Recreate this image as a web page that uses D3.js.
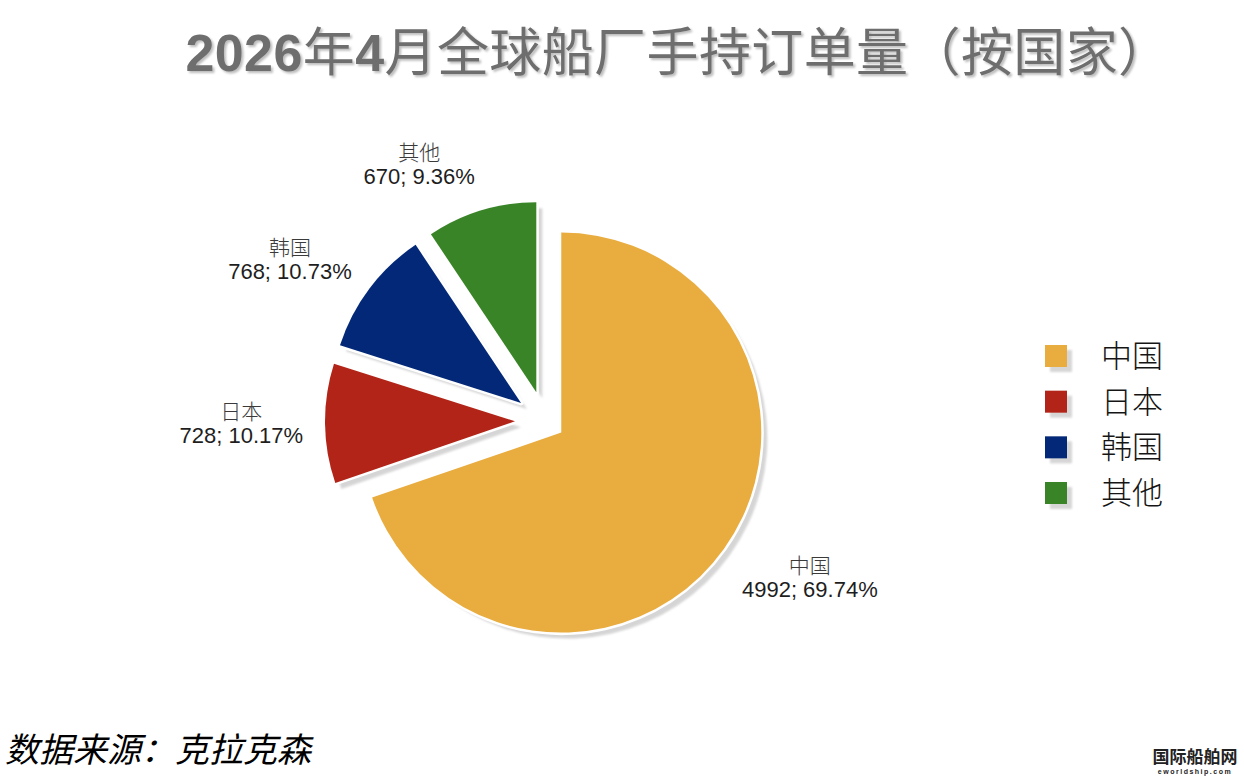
<!DOCTYPE html>
<html>
<head>
<meta charset="utf-8">
<script src="https://cdn.jsdelivr.net/npm/d3@7"></script>
<style>
  body { margin: 0; background: #fff; }
</style>
</head>
<body>
<div id="chart"></div>
<script>
// data
const title = "2026年4月全球船厂手持订单量（按国家）"
const countries = ["中国", "日本", "韩国", "其他"]
const orders = [4992, 728, 768, 670]
const colors = ["#E9AC3F", "#B12417", "#022877", "#3A8428"]
const source = "数据来源：克拉克森"

const W = 1244, H = 776
const cx = 545, cy = 421
const cjk = "'Noto Sans CJK SC', 'Noto Sans', sans-serif"
const latin = "'Liberation Sans', Arial, 'Noto Sans CJK SC', sans-serif"

let svg = d3.select("#chart").append("svg")
    .attr("width", W)
    .attr("height", H)
    .attr("style", "background-color:#fff")

let defs = svg.append("defs")
defs.append("filter").attr("id", "soft")
    .append("feGaussianBlur").attr("stdDeviation", 1)
defs.append("filter").attr("id", "tshadow")
    .attr("x", "-5%").attr("y", "-20%").attr("width", "110%").attr("height", "140%")
  .append("feDropShadow")
    .attr("dx", 2).attr("dy", 2).attr("stdDeviation", 1.2)
    .attr("flood-color", "#bdbdbd")

// title: digits bold latin, the rest CJK
let t = svg.append("text")
    .attr("x", 678).attr("y", 71)
    .attr("text-anchor", "middle")
    .attr("fill", "#6e6e6e")
    .attr("font-size", 52)
    .attr("letter-spacing", 0.4)
    .attr("filter", "url(#tshadow)")
t.selectAll("tspan")
 .data(title.match(/\d+|\D+/g))
 .join("tspan")
 .attr("font-family", d => /\d/.test(d) ? latin : cjk)
 .attr("font-weight", d => /\d/.test(d) ? "bold" : 400)
 .text(d => d)

// pie
let data = countries.map((c, i) => ({name: c, value: orders[i], color: colors[i]}))
let total = d3.sum(orders)
let pct = d3.format(".2f")

let pie = d3.pie().sort(null).value(d => d.value)
let arcs = pie(data)

let radius = d => d.index === 0 ? 200 : 190
let explode = d => d.index === 0 ? 20 : 30
let arc = d3.arc().innerRadius(0).outerRadius(d => radius(d))

arcs.forEach(d => {
    let a = (d.startAngle + d.endAngle) / 2
    d.dir = [Math.sin(a), -Math.cos(a)]
    d.vx = cx + d.dir[0] * explode(d)
    d.vy = cy + d.dir[1] * explode(d)
})

let g = svg.append("g")

g.append("g").selectAll("path")
 .data(arcs)
 .join("path")
 .attr("transform", d => `translate(${d.vx + 6},${d.vy + 6})`)
 .attr("d", arc)
 .attr("fill", "#d5d5d5")
 .attr("filter", "url(#soft)")

g.append("g").selectAll("path")
 .data(arcs)
 .join("path")
 .attr("transform", d => `translate(${d.vx},${d.vy})`)
 .attr("d", arc)
 .attr("fill", d => d.data.color)
 .attr("stroke", "#fff")
 .attr("stroke-width", 5)
 .attr("stroke-linejoin", "round")
 .attr("paint-order", "stroke")

// data labels, pushed outside the slice ends
let labels = svg.append("g").selectAll("g")
 .data(arcs)
 .join("g")

labels.append("text")
 .attr("text-anchor", "middle")
 .attr("y", -4)
 .attr("font-family", cjk)
 .attr("font-weight", 300)
 .attr("font-size", 21)
 .attr("fill", "#3a3a3a")
 .text(d => d.data.name)

labels.append("text")
 .attr("text-anchor", "middle")
 .attr("y", 20)
 .attr("font-family", latin)
 .attr("font-size", 22)
 .attr("fill", "#1e1e1e")
 .text(d => `${d.data.value}; ${pct(d.data.value / total * 100)}%`)

let clamp = v => Math.max(-1, Math.min(1, v * 4))
labels.each(function(d) {
    let b = this.getBBox()
    let hw = b.width / 2, hh = b.height / 2
    let px = d.vx + d.dir[0] * radius(d)
    let py = d.vy + d.dir[1] * radius(d)
    let gap = 22
    let x = px + clamp(d.dir[0]) * hw + d.dir[0] * gap
    let y = py + d.dir[1] * (hh + gap) - 2
    let ox = b.x + hw, oy = b.y + hh
    d3.select(this).attr("transform", `translate(${x - ox},${y - oy})`)
})

// legend
let ly = d3.scalePoint().domain(countries).range([356, 493])
let legend = svg.append("g").selectAll("g")
 .data(data)
 .join("g")
 .attr("transform", d => `translate(1045,${ly(d.name)})`)

legend.append("rect")
 .attr("x", 5).attr("y", -6)
 .attr("width", 22).attr("height", 22)
 .attr("fill", "#d6d6d6")
 .attr("filter", "url(#soft)")
legend.append("rect")
 .attr("x", 0).attr("y", -11)
 .attr("width", 22).attr("height", 22)
 .attr("fill", d => d.color)
legend.append("text")
 .attr("x", 56).attr("y", 11)
 .attr("font-family", cjk)
 .attr("font-weight", 300)
 .attr("font-size", 31)
 .attr("fill", "#151515")
 .text(d => d.name)

// source note
svg.append("text")
 .attr("x", 5).attr("y", 762)
 .attr("font-family", cjk)
 .attr("font-style", "italic")
 .attr("font-size", 34)
 .attr("fill", "#000")
 .text(source)

// site mark
svg.append("text")
 .attr("x", 1195).attr("y", 763)
 .attr("text-anchor", "middle")
 .attr("font-family", cjk)
 .attr("font-weight", "bold")
 .attr("font-size", 17)
 .attr("fill", "#222")
 .text("国际船舶网")
svg.append("text")
 .attr("x", 1195).attr("y", 774)
 .attr("text-anchor", "middle")
 .attr("font-family", latin)
 .attr("font-weight", "bold")
 .attr("font-size", 7)
 .attr("letter-spacing", 1.5)
 .attr("fill", "#222")
 .text("eworldship.com")
</script>
</body>
</html>
